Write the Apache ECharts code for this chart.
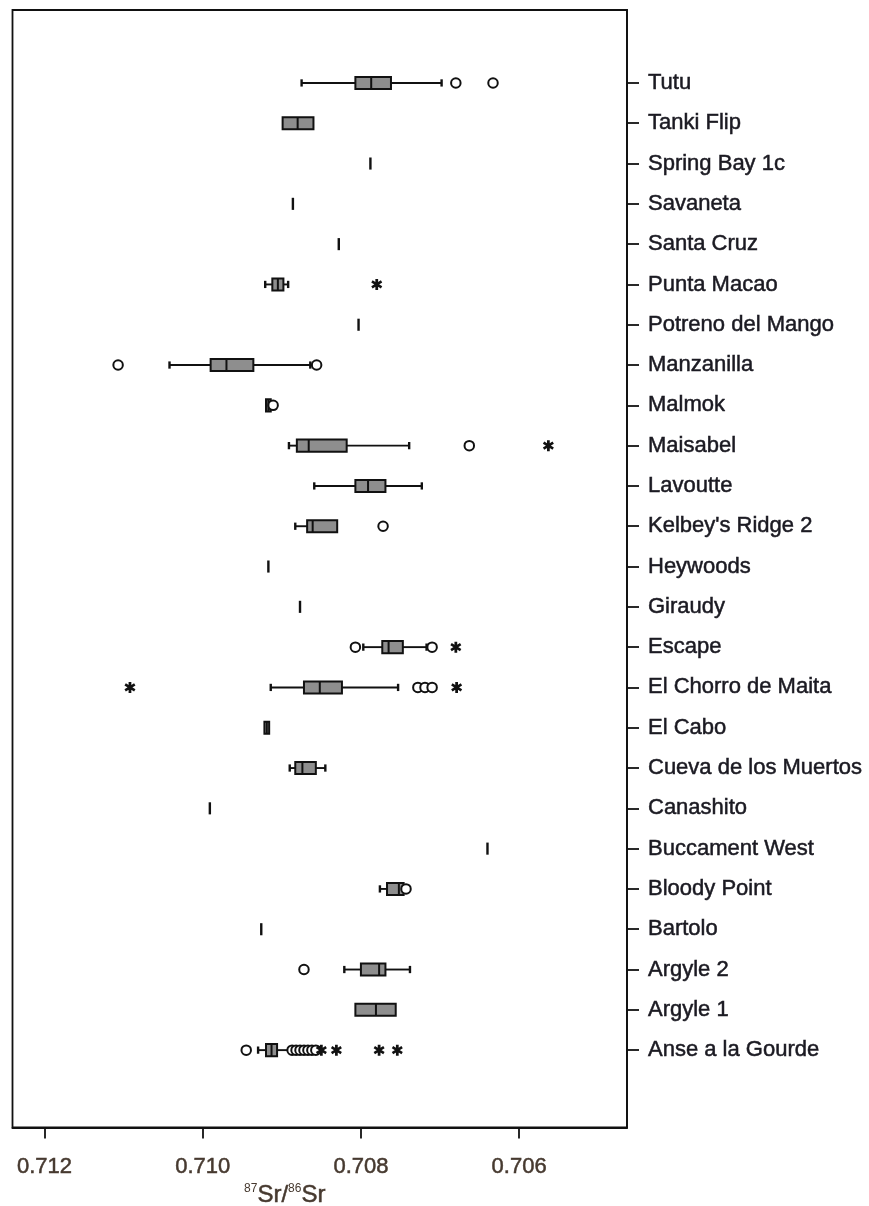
<!DOCTYPE html>
<html>
<head>
<meta charset="utf-8">
<script src="https://cdn.jsdelivr.net/npm/echarts@6.0.0/dist/echarts.min.js"></script>
<style>
html,body{margin:0;padding:0;background:#fff;}
#chart{width:869px;height:1206px;}
</style>
</head>
<body>
<div id="chart"></div>
<script>
// ---- data (87Sr/86Sr) ----
const categories = ['Tutu','Tanki Flip','Spring Bay 1c','Savaneta','Santa Cruz','Punta Macao','Potreno del Mango','Manzanilla','Malmok','Maisabel','Lavoutte',"Kelbey's Ridge 2",'Heywoods','Giraudy','Escape','El Chorro de Maita','El Cabo','Cueva de los Muertos','Canashito','Buccament West','Bloody Point','Bartolo','Argyle 2','Argyle 1','Anse a la Gourde'];
const lowWhisker  = [0.70698,0.70860,0.70788,0.70886,0.70828,0.70892,0.70803,0.70864,0.70914,0.70739,0.70723,0.70830,0.70917,0.70877,0.70717,0.70753,0.70916,0.70845,0.70991,0.70640,0.70746,0.70926,0.70738,0.70756,0.70890];
const q1          = [0.70762,0.70860,0.70788,0.70886,0.70828,0.70898,0.70803,0.70936,0.70914,0.70818,0.70769,0.70830,0.70917,0.70877,0.70747,0.70824,0.70916,0.70857,0.70991,0.70640,0.70746,0.70926,0.70769,0.70756,0.70906];
const median      = [0.70787,0.70880,0.70788,0.70886,0.70828,0.70905,0.70803,0.70970,0.70917,0.70866,0.70791,0.70861,0.70917,0.70877,0.70765,0.70852,0.70919,0.70874,0.70991,0.70640,0.70752,0.70926,0.70777,0.70781,0.70913];
const q3          = [0.70807,0.70899,0.70788,0.70886,0.70828,0.70912,0.70803,0.70990,0.70920,0.70881,0.70807,0.70868,0.70917,0.70877,0.70773,0.70872,0.70922,0.70883,0.70991,0.70640,0.70767,0.70926,0.70800,0.70807,0.70920];
const highWhisker = [0.70875,0.70899,0.70788,0.70886,0.70828,0.70921,0.70803,0.71042,0.70920,0.70891,0.70859,0.70883,0.70917,0.70877,0.70797,0.70914,0.70922,0.70890,0.70991,0.70640,0.70776,0.70926,0.70821,0.70807,0.70930];
const circleOutliers = [
  ['Tutu',0.70680],['Tutu',0.70633],
  ['Manzanilla',0.71107],['Manzanilla',0.70856],
  ['Malmok',0.70911],
  ['Maisabel',0.70663],
  ["Kelbey's Ridge 2",0.70772],
  ['Escape',0.70807],['Escape',0.70710],
  ['El Chorro de Maita',0.70728],['El Chorro de Maita',0.70719],['El Chorro de Maita',0.70710],
  ['Bloody Point',0.70743],
  ['Argyle 2',0.70872],
  ['Anse a la Gourde',0.70945],['Anse a la Gourde',0.70887],['Anse a la Gourde',0.70882],['Anse a la Gourde',0.70877],
  ['Anse a la Gourde',0.70872],['Anse a la Gourde',0.70867],['Anse a la Gourde',0.70862],['Anse a la Gourde',0.70857]
];
const extremeOutliers = [
  ['Punta Macao',0.70780],
  ['Maisabel',0.70563],
  ['Escape',0.70680],
  ['El Chorro de Maita',0.71092],['El Chorro de Maita',0.70679],
  ['Anse a la Gourde',0.70850],['Anse a la Gourde',0.70831],['Anse a la Gourde',0.70777],['Anse a la Gourde',0.70754]
];
const xTicks = [0.712, 0.710, 0.708, 0.706];

// ---- chart ----
const boxRows = categories.map((c, i) => [i, lowWhisker[i], q1[i], median[i], q3[i], highWhisker[i]]);
const circlePts = circleOutliers.map(d => [d[1], categories.indexOf(d[0])]);
const starPts = extremeOutliers.map(d => [d[1], categories.indexOf(d[0])]);
const catIdx = categories.map((c, i) => i);

const asterisk = 'path://M3.8,0L6.2,0L6.2,10L3.8,10Z M8.6,1.2L9.8,3.3L1.4,8.8L0.2,6.7Z M1.4,1.2L9.8,6.7L8.6,8.8L0.2,3.3Z';

const INK = '#111';
const AXTXT = '#46392f';
const CATTXT = '#1b1a22';
const FONT = "'Liberation Sans', Arial, sans-serif";
const chart = echarts.init(document.getElementById('chart'), null, {renderer: 'canvas'});
chart.setOption({
  animation: false,
  backgroundColor: '#fff',
  grid: {left: 12.5, right: 242, top: 10, bottom: 78.5, containLabel: false, outerBoundsMode: 'none',
    show: true, borderColor: INK, borderWidth: 1.8, backgroundColor: 'transparent'},
  xAxis: {
    type: 'value', inverse: true, min: 0.704636, max: 0.712405,
    splitLine: {show: false},
    axisLine: {show: true, onZero: false, lineStyle: {color: INK, width: 1.8}},
    axisTick: {show: true, customValues: xTicks, length: 11, lineStyle: {color: INK, width: 1.8}},
    axisLabel: {customValues: xTicks, formatter: v => v.toFixed(3), margin: 28, fontSize: 22,
      fontFamily: FONT, color: AXTXT, textBorderColor: AXTXT, textBorderWidth: 0.5},
    name: '{sup|87}{main|Sr/}{sup|86}{main|Sr}',
    nameLocation: 'middle', nameGap: 52,
    nameTextStyle: {padding: [0, 70, 0, 0], rich: {
      main: {fontSize: 24, fontFamily: FONT, color: AXTXT, verticalAlign: 'bottom', textBorderColor: AXTXT, textBorderWidth: 0.5},
      sup: {fontSize: 12, fontFamily: FONT, color: AXTXT, verticalAlign: 'top'}
    }}
  },
  yAxis: {
    type: 'value', inverse: true, position: 'right', min: -1.81, max: 25.92,
    splitLine: {show: false},
    axisLine: {show: true, onZero: false, lineStyle: {color: INK, width: 1.8}},
    axisTick: {show: true, customValues: catIdx, length: 12, lineStyle: {color: INK, width: 1.8}},
    axisLabel: {customValues: catIdx, formatter: v => categories[v], margin: 21, fontSize: 22,
      fontFamily: FONT, color: CATTXT, textBorderColor: CATTXT, textBorderWidth: 0.5}
  },
  series: [
    {
      type: 'custom',
      data: boxRows,
      encode: {x: [1, 2, 3, 4, 5], y: 0},
      renderItem: function (params, api) {
        const i = api.value(0);
        const lo = api.value(1), a = api.value(2), m = api.value(3), b = api.value(4), hi = api.value(5);
        const band = api.size([0, 1])[1];
        const hh = band * 0.15;   // half box height
        const ch = band * 0.09;   // half cap height
        const px = v => api.coord([v, i])[0];
        const y = api.coord([m, i])[1];
        const xLo = px(lo), xA = px(a), xM = px(m), xB = px(b), xHi = px(hi);
        const st = {stroke: INK, lineWidth: 1.9, fill: null};
        const kids = [];
        if (lo < a) {
          kids.push({type: 'line', shape: {x1: xLo, y1: y, x2: xA, y2: y}, style: st});
          kids.push({type: 'line', shape: {x1: xLo, y1: y - ch, x2: xLo, y2: y + ch}, style: {stroke: INK, lineWidth: 2.4}});
        }
        if (hi > b) {
          kids.push({type: 'line', shape: {x1: xB, y1: y, x2: xHi, y2: y}, style: st});
          kids.push({type: 'line', shape: {x1: xHi, y1: y - ch, x2: xHi, y2: y + ch}, style: {stroke: INK, lineWidth: 2.4}});
        }
        if (b > a) {
          const x0 = Math.min(xA, xB), w = Math.abs(xA - xB);
          kids.push({type: 'rect', shape: {x: x0, y: y - hh, width: w, height: 2 * hh}, style: {fill: '#8e8e8e', stroke: INK, lineWidth: 2}});
          kids.push({type: 'line', shape: {x1: xM, y1: y - hh, x2: xM, y2: y + hh}, style: {stroke: INK, lineWidth: 2}});
        } else {
          kids.push({type: 'line', shape: {x1: xA, y1: y - hh, x2: xA, y2: y + hh}, style: {stroke: INK, lineWidth: 2.4}});
        }
        return {type: 'group', children: kids};
      },
      z: 2
    },
    {
      type: 'scatter', data: circlePts, symbol: 'circle', symbolSize: 9.5,
      itemStyle: {color: '#fff', borderColor: INK, borderWidth: 2, opacity: 1}, z: 3
    },
    {
      type: 'scatter', data: starPts, symbol: asterisk, symbolSize: 11,
      itemStyle: {color: INK, borderWidth: 0, opacity: 1}, z: 3
    }
  ]
});
</script>
</body>
</html>
